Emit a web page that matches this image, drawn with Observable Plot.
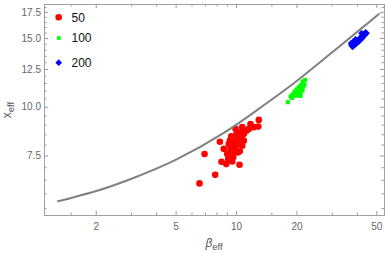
<!DOCTYPE html>
<html><head><meta charset="utf-8">
<script src="https://cdn.jsdelivr.net/npm/d3@7"></script>
<script src="https://cdn.jsdelivr.net/npm/@observablehq/plot@0.6"></script>
<style>
html,body{margin:0;padding:0;background:#fff;}
#chart{width:390px;height:254px;}
</style></head><body><div id="chart"></div>
<script>
// ---- data ----
const seriesNames = ["50", "100", "200"];
const seriesColors = ["#ff0000", "#00ff00", "#0000ff"];

const redBeta = [6.54,7.83,6.93,8.26,8.89,8.42,9.52,10.35,10.38,12.91,12.83,11.74,9.89,10.68,9.41,11.21,9.15,9.69,10.08,10.47,10.87,10.27,9.33,9.89,9.52,8.99,8.64,10.68,10.87,10.0,9.63,9.09,10.47,11.52,12.19,10.15,9.26,9.81];
const redX    = [6.38,6.71,7.59,8.16,7.15,7.25,7.26,7.12,7.71,9.28,8.92,9.06,8.80,8.89,8.42,8.71,8.05,8.13,8.29,8.37,8.21,8.05,7.82,7.82,7.59,7.59,7.82,7.97,8.54,8.54,7.44,7.37,8.62,8.80,8.89,7.66,8.21,7.97];

const greenBeta = [18.01,18.58,19.01,19.45,19.91,20.37,20.84,21.33,21.95,19.68,20.37,20.84,21.33,21.57,20.14,19.23,20.6,21.08,21.82,19.91,20.84,18.9,21.33];
const greenX    = [10.30,10.65,10.78,10.97,11.10,11.24,11.37,11.51,11.75,10.72,10.72,10.84,11.04,11.30,10.91,10.69,11.10,11.17,11.44,10.81,10.69,10.56,11.64];

const blueBeta = [37.41,37.84,38.28,39.17,40.08,41.01,41.96,42.94,43.94,38.72,39.62,40.54,41.48,42.45,43.44,44.43,37.2,38.28,41.96,39.17];
const blueX    = [14.41,14.28,14.49,14.66,14.84,15.01,15.19,15.38,15.56,14.41,14.58,14.71,14.88,15.06,15.29,15.47,14.58,14.75,15.47,14.93];

const curveBeta = [1.29, 2.0, 3.0, 5.0, 8.6, 13.0, 19.3, 28.3, 41.5, 51.2];
const curveX    = [5.74, 6.10, 6.56, 7.34, 8.58, 9.93, 11.52, 13.50, 15.85, 17.35];

const xMajor = [2, 5, 10, 20, 50];
const xMinor = [1.5, 3, 4, 6, 7, 8, 9, 15, 30, 40];
const yMajor = [7.5, 10, 12.5, 15, 17.5];
const yMinor = [5.5,6,6.5,7,8,8.5,9,9.5,10.5,11,11.5,12,13,13.5,14,14.5,15.5,16,16.5,17,18];

// ---- build tables ----
const zip = (a, b) => a.map((v, i) => ({beta: v, x: b[i]}));
const red = zip(redBeta, redX);
const green = zip(greenBeta, greenX);
const blue = zip(blueBeta, blueX);
const curve = zip(curveBeta, curveX);

const W = 390, H = 254, mL = 44, mR = 6, mT = 4, mB = 39;
const fw = W - mL - mR, fh = H - mT - mB;
const tickC = "#9a9a9a", labC = "#666";

const plot = Plot.plot({
  width: W, height: H,
  marginLeft: mL, marginRight: mR, marginTop: mT, marginBottom: mB,
  style: {fontFamily: "'Liberation Sans', Arial, sans-serif", fontSize: "10px", background: "#fff", overflow: "visible"},
  x: {type: "log", domain: [1.105, 54.6]},
  y: {type: "log", domain: [5.28, 18.33]},
  marks: [
    Plot.tickX(xMajor, {x: d => d, insetTop: fh - 4, stroke: tickC}),
    Plot.tickX(xMajor, {x: d => d, insetBottom: fh - 4, stroke: tickC}),
    Plot.tickX(xMinor, {x: d => d, insetTop: fh - 2.5, stroke: tickC}),
    Plot.tickX(xMinor, {x: d => d, insetBottom: fh - 2.5, stroke: tickC}),
    Plot.tickY(yMajor, {y: d => d, insetRight: fw - 4, stroke: tickC}),
    Plot.tickY(yMajor, {y: d => d, insetLeft: fw - 4, stroke: tickC}),
    Plot.tickY(yMinor, {y: d => d, insetRight: fw - 2.5, stroke: tickC}),
    Plot.tickY(yMinor, {y: d => d, insetLeft: fw - 2.5, stroke: tickC}),
    Plot.frame({stroke: "#a0a0a0", strokeWidth: 1}),
    Plot.axisX({ticks: xMajor, tickSize: 0, tickPadding: 7.5, tickFormat: d => String(d), label: null, color: labC}),
    Plot.axisY({ticks: yMajor, tickSize: 0, tickPadding: 3.5, tickFormat: d => d.toFixed(1), label: null, color: labC}),
    Plot.dot(red, {x: "beta", y: "x", r: 3.3, fill: seriesColors[0], stroke: "none"}),
    Plot.dot(green, {x: "beta", y: "x", symbol: "square", r: 2.3, fill: seriesColors[1], stroke: "none"}),
    Plot.dot(blue, {x: "beta", y: "x", symbol: "diamond2", r: 3, fill: seriesColors[2], stroke: "none"}),
    Plot.line(curve, {x: "beta", y: "x", stroke: "#808080", strokeWidth: 2, curve: "natural"})
  ]
});

const svg = d3.select(plot);

// axis labels with subscripts
const xl = svg.append("text").attr("x", 214).attr("y", 247).attr("text-anchor", "middle")
  .attr("fill", "#555").style("font-family", "'Liberation Sans', Arial, sans-serif");
xl.append("tspan").attr("font-style", "italic").attr("font-size", 12).text("β");
xl.append("tspan").attr("font-size", 9.5).attr("dy", 2.5).text("eff");

const yl = svg.append("text").attr("transform", "translate(11,110) rotate(-90)").attr("text-anchor", "middle")
  .attr("fill", "#555").style("font-family", "'Liberation Sans', Arial, sans-serif");
yl.append("tspan").attr("font-size", 12).text("x");
yl.append("tspan").attr("font-size", 9.5).attr("dy", 2.5).text("eff");

// legend
const legY = [17.3, 38, 62.7];
const legSym = [d3.symbolCircle, d3.symbolSquare, d3.symbolDiamond2];
const legSize = [Math.PI * 3.3 * 3.3, 14, Math.PI * 9];
seriesNames.forEach((name, i) => {
  svg.append("path").attr("transform", `translate(58.7,${legY[i]})`)
    .attr("d", d3.symbol(legSym[i], legSize[i])()).attr("fill", seriesColors[i]);
  svg.append("text").attr("x", 71.5).attr("y", legY[i]).attr("dy", "0.36em")
    .attr("text-anchor", "start")
    .attr("font-size", 12).attr("fill", "#111")
    .style("font-family", "'Liberation Sans', Arial, sans-serif").text(name);
});

document.getElementById("chart").appendChild(plot);
</script>
</body></html>
